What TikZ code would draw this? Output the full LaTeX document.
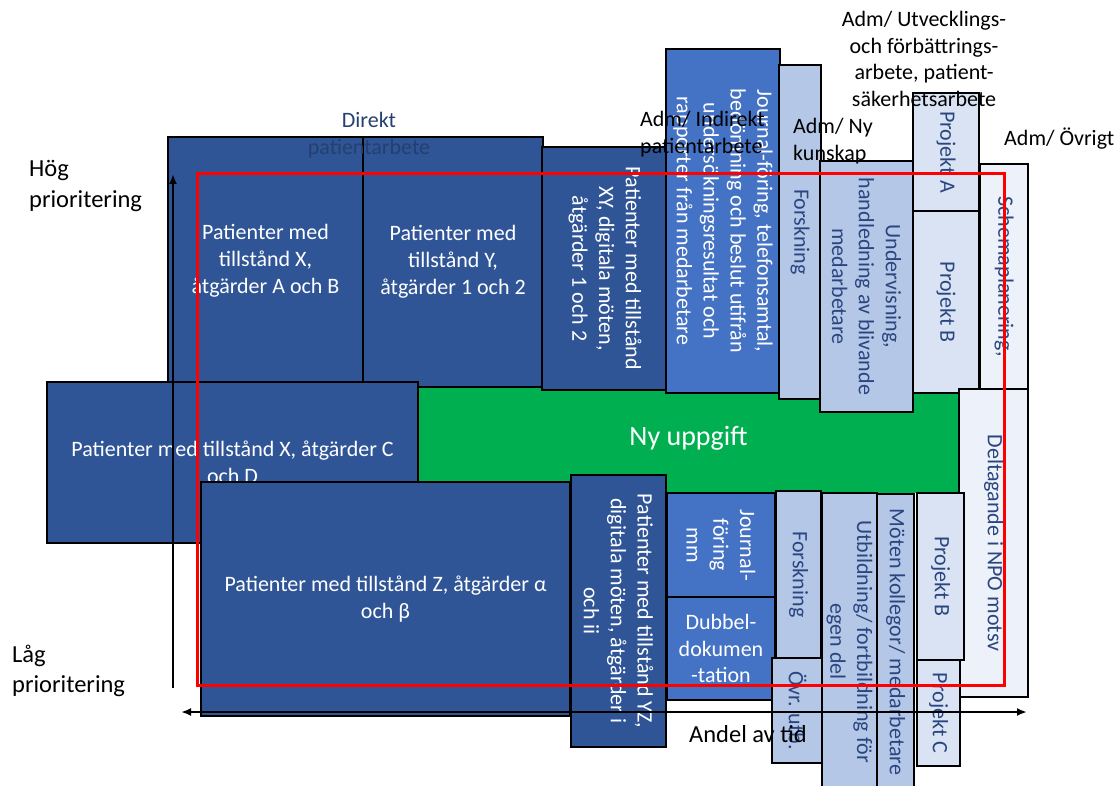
\documentclass[tikz,border=0pt]{standalone}
\usepackage{fontspec}
\setmainfont{Carlito}
\usetikzlibrary{arrows.meta}
\definecolor{dkblue}{HTML}{2F5597}
\definecolor{mdblue}{HTML}{4472C4}
\definecolor{ltblue}{HTML}{B4C7E7}
\definecolor{ltblueB}{HTML}{DAE3F3}
\definecolor{ltblueC}{HTML}{EDF1F9}
\definecolor{txtblue}{HTML}{2A4680}
\definecolor{grn}{HTML}{00B050}
\definecolor{slate}{HTML}{24406F}
\newcommand{\fntA}{\fontsize{22}{26.8}\selectfont}
\newcommand{\fntB}{\fontsize{24.5}{30.5}\selectfont}
\newcommand{\fntC}{\fontsize{28}{33}\selectfont}
\begin{document}
\begin{tikzpicture}[x=1pt,y=-1pt,
  box/.style={draw=black, line width=1.6pt, inner sep=0pt, align=center, font=\fntA},
  dk/.style={box, fill=dkblue, text=white},
  md/.style={box, fill=mdblue, text=white},
  lt/.style={box, fill=ltblue, text=txtblue},
  ltB/.style={box, fill=ltblueB, text=txtblue},
  ltC/.style={box, fill=ltblueC, text=txtblue},
  vert/.style={rotate=-90},
  lbl/.style={inner sep=0pt, font=\fntA, align=left, text=black},
  axis/.style={line width=2.2pt, black},
]
\useasboundingbox (0,0) rectangle (1116,786);

% green new task
\node[box, fill=grn, draw=grn, text=white, font=\fntC, minimum width=541pt, minimum height=107pt] (nyupp) at (688.5,438.5) {Ny uppgift};

% upper direct patient work
\node[dk, minimum width=195pt, minimum height=248pt] (pxab) at (265.5,261) {Patienter med\\tillstånd X,\\åtgärder A och B};
\node[dk, minimum width=180pt, minimum height=250pt] (py12) at (453,262) {Patienter med\\tillstånd Y,\\åtgärder 1 och 2};
\node[dk, vert, minimum width=243pt, minimum height=126pt] (pxy) at (605,268.5) {Patienter med tillstånd\\XY, digitala möten,\\åtgärder 1 och 2};

% upper admin
\node[md, vert, minimum width=344pt, minimum height=114pt] (journal) at (723,221) {Journal-föring, telefonsamtal,\\bedömning och beslut utifrån\\undersökningsresultat och\\rapporter från medarbetare};
\node[lt, vert, minimum width=334pt, minimum height=42pt] (forsk1) at (800,232) {Forskning};
\node[lt, vert, minimum width=251pt, minimum height=93pt] (underv) at (866.5,286.5) {Undervisning,\\handledning av blivande\\medarbetare};
\node[ltB, vert, minimum width=118pt, minimum height=66pt] (projA) at (946,152) {Projekt A};
\node[ltB, vert, minimum width=182pt, minimum height=66pt] (projB1) at (946,302) {Projekt B};
\node[ltC, vert, minimum width=225pt, minimum height=48pt] (schema) at (1004,276.5) {Schemaplanering,};
\node[ltC, vert, minimum width=308pt, minimum height=69pt] (npo) at (993.5,543) {Deltagande i NPO motsv};

% lower direct patient work
\node[dk, minimum width=371pt, minimum height=161pt] (pxcd) at (232.5,462.5) {Patienter med tillstånd X, åtgärder C\\och D};
\node[dk, minimum width=369pt, minimum height=234pt] (pz) at (385.5,599) {Patienter med tillstånd Z, åtgärder α\\och β};
\node[dk, vert, minimum width=272pt, minimum height=95pt] (pyz) at (618.5,611) {Patienter med tillstånd YZ,\\digitala möten, åtgärder i\\och ii};

% lower admin
\node[md, vert, minimum width=104pt, minimum height=108pt] (journal2) at (721,545) {Journal-\\föring\\mm};
\node[md, minimum width=108pt, minimum height=103pt] (dubbel) at (721,648.5) {Dubbel-\\dokumen\\-tation};
\node[lt, vert, minimum width=167pt, minimum height=45pt] (forsk2) at (798.5,574.5) {Forskning};
\node[lt, vert, minimum width=105pt, minimum height=51pt] (ovr) at (797.5,710.5) {Övr. utb.};
\node[lt, vert, minimum width=297pt, minimum height=55pt] (utb) at (849.5,641.5) {Utbildning/ fortbildning för\\egen del};
\node[lt, vert, minimum width=296pt, minimum height=37pt] (moten) at (895.5,642) {Möten kollegor/ medarbetare};
\node[ltB, vert, minimum width=167pt, minimum height=47pt] (projB2) at (940.5,576.5) {Projekt B};
\node[ltB, vert, minimum width=106pt, minimum height=43pt] (projC) at (938.5,713) {Projekt C};

% labels
\node[lbl, font=\fntB, anchor=west] (hog) at (29,186) {Hög\\prioritering};
\node[lbl, font=\fntB, anchor=west] (lag) at (12,671) {Låg\\prioritering};
\node[lbl, align=center, text=slate] (direkt) at (369,135) {Direkt\\patientarbete};
\node[lbl, anchor=west] (indir) at (640,134) {Adm/ Indirekt\\patientarbete};
\node[lbl, anchor=west] (nykun) at (793,141) {Adm/ Ny\\kunskap};
\node[lbl, align=center] (utv) at (924,59) {Adm/ Utvecklings-\\och förbättrings-\\arbete, patient-\\säkerhetsarbete};
\node[lbl, anchor=west] (ovrigt) at (1004,139) {Adm/ Övrigt};
\node[lbl, font=\fntB] (andel) at (748,734) {Andel av tid};

% axes
\coordinate (vb) at (173,688);
\coordinate (vt) at (173,174);
\coordinate (hl) at (181,712);
\coordinate (hr) at (1027,712);
\draw[axis, -{Latex[length=10pt,width=8pt]}] (vb) -- (vt);
\draw[axis, {Latex[length=10pt,width=8pt]}-{Latex[length=10pt,width=8pt]}] (hl) -- (hr);

% red focus frame
\node[draw=red, line width=3pt, inner sep=0pt, minimum width=807pt, minimum height=511pt] (focus) at (600.5,429.5) {};
\end{tikzpicture}
\end{document}
